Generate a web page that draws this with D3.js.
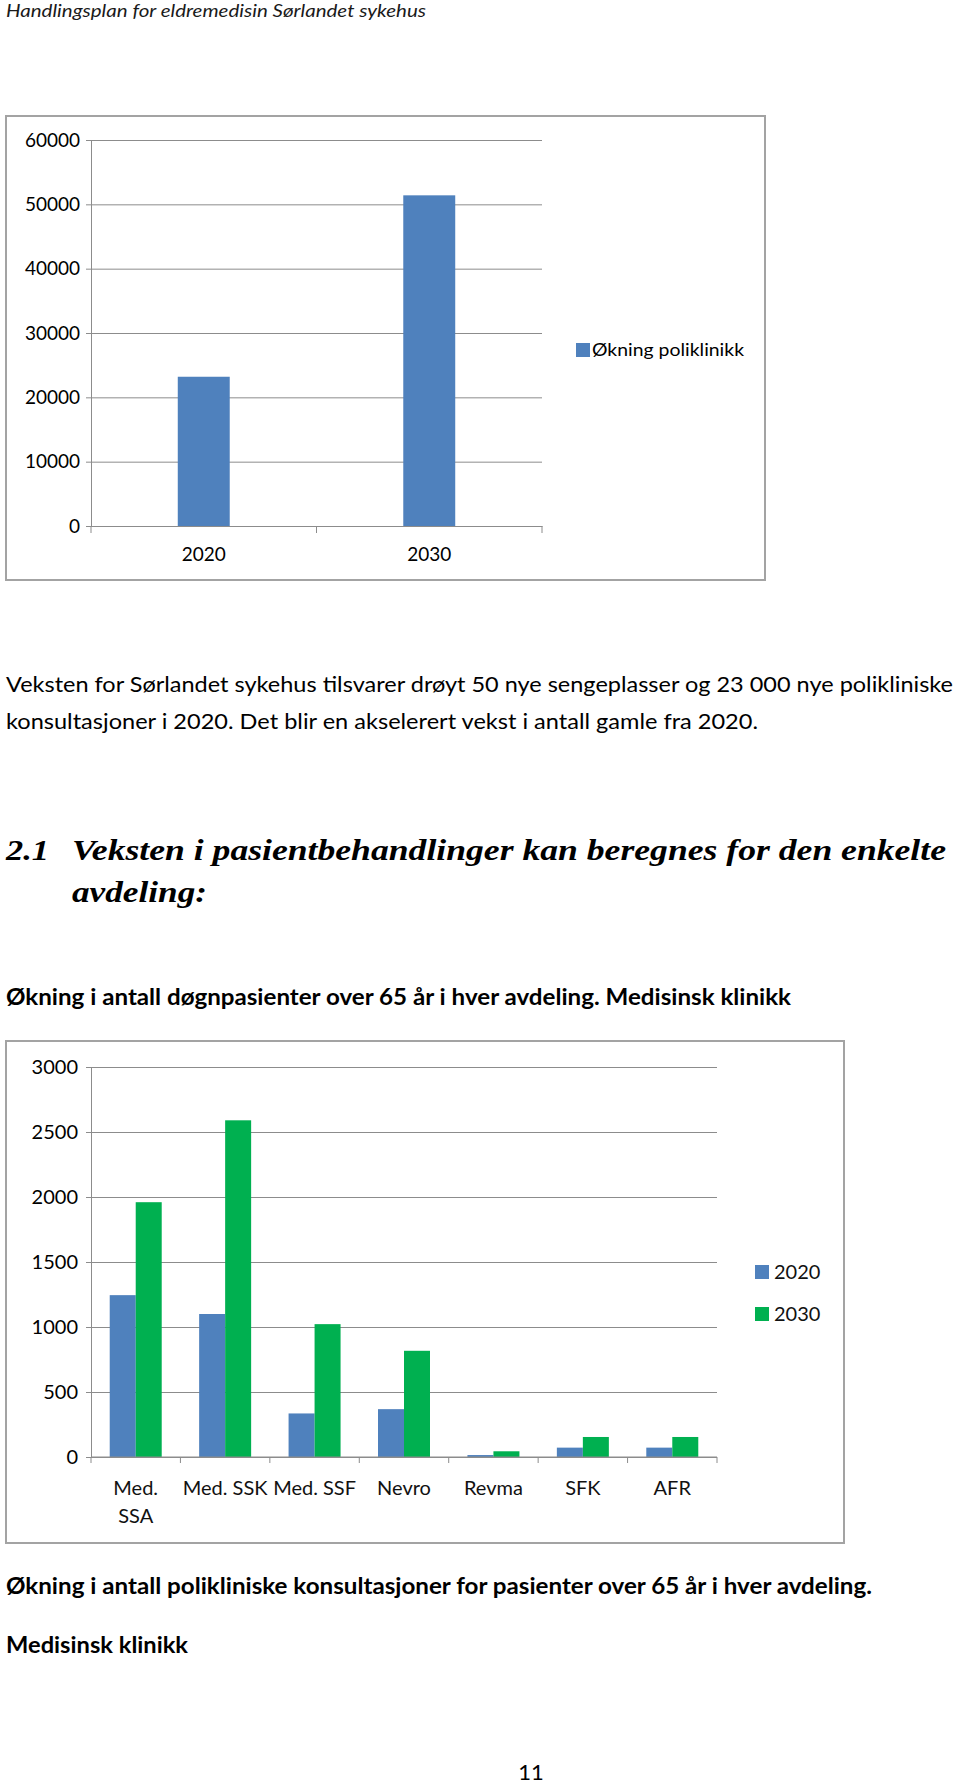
<!DOCTYPE html>
<html>
<head>
<meta charset="utf-8">
<script src="https://cdn.jsdelivr.net/npm/d3@7"></script>
<style>
  body { margin: 0; background: #fff; }
  svg text { font-family: Lato, "Open Sans", sans-serif; fill: #000; }
</style>
</head>
<body>
<div id="page"></div>
<script>
// Chart 1: poliklinikk growth
var years = ["2020", "2030"];
var polikliniskValues = [23200, 51400];
var polikliniskSeries = "Økning poliklinikk";
var polikliniskTicks = [0, 10000, 20000, 30000, 40000, 50000, 60000];

// Chart 2: døgnpasienter per avdeling
var avdelinger = ["Med. SSA", "Med. SSK", "Med. SSF", "Nevro", "Revma", "SFK", "AFR"];
var avdelingLabels = [["Med.", "SSA"], ["Med. SSK"], ["Med. SSF"], ["Nevro"], ["Revma"], ["SFK"], ["AFR"]];
var values2020 = [1245, 1100, 335, 368, 15, 72, 72];
var values2030 = [1960, 2590, 1022, 817, 44, 154, 154];
var seriesYears = ["2020", "2030"];
var dognTicks = [0, 500, 1000, 1500, 2000, 2500, 3000];

var blue = "#4f81bd";
var green = "#00b050";
var gridColor = "#8c8c8c";

var W = 960, H = 1786;
var svg = d3.select("#page").append("svg")
    .attr("width", W)
    .attr("height", H);

svg.append("rect").attr("width", W).attr("height", H).attr("fill", "#fff");

// helper for document text lines, stretched to the width seen in the page
function textLine(x, y, str, opts) {
    var t = svg.append("text")
        .attr("x", x)
        .attr("y", y)
        .attr("font-size", opts.size + "px")
        .text(str);
    if (opts.weight) t.attr("font-weight", opts.weight);
    if (opts.style) t.attr("font-style", opts.style);
    if (opts.family) t.style("font-family", opts.family);
    if (opts.fill) t.style("fill", opts.fill);
    if (opts.anchor) t.attr("text-anchor", opts.anchor);
    if (opts.width) t.attr("textLength", opts.width).attr("lengthAdjust", "spacingAndGlyphs");
    return t;
}

// page header
textLine(6, 17, "Handlingsplan for eldremedisin Sørlandet sykehus", {size: 18, style: "italic", width: 420, fill: "#1a1a1a"});

// ---------- chart 1 ----------
svg.append("rect")
    .attr("x", 6).attr("y", 116)
    .attr("width", 759).attr("height", 464)
    .attr("fill", "#fff")
    .attr("stroke", "#a3a3a3")
    .attr("stroke-width", 2);

var c1 = {left: 91, right: 542, top: 140, bottom: 526};

var y1 = d3.scaleLinear()
    .domain([0, 60000])
    .range([c1.bottom, c1.top]);

var x1 = d3.scaleBand()
    .domain(years)
    .range([c1.left, c1.right])
    .padding(0);

var x1inner = d3.scaleBand()
    .domain([polikliniskSeries])
    .range([0, x1.bandwidth()])
    .paddingOuter(1.67);

// gridlines
svg.append("g")
    .attr("transform", "translate(" + c1.left + ",0)")
    .call(d3.axisLeft(y1).tickValues(polikliniskTicks).tickSize(-(c1.right - c1.left)).tickFormat(""))
    .call(function(g) {
        g.select(".domain").remove();
        g.selectAll("line").attr("stroke", gridColor);
    });

// y-axis with labels
svg.append("g")
    .attr("transform", "translate(" + c1.left + ",0)")
    .call(d3.axisLeft(y1).tickValues(polikliniskTicks).tickSize(5).tickSizeOuter(0).tickPadding(6).tickFormat(d3.format("d")))
    .call(function(g) {
        g.select(".domain").attr("stroke", gridColor);
        g.selectAll("line").attr("stroke", gridColor);
        g.selectAll("text").attr("font-size", "19px").style("font-family", "Lato, sans-serif").attr("fill", "#111");
    });

// bars
svg.selectAll(".bar1")
    .data(polikliniskValues)
    .enter()
    .append("rect")
    .attr("class", "bar1")
    .attr("x", function(d, i) { return x1(years[i]) + x1inner(polikliniskSeries); })
    .attr("y", function(d) { return y1(d); })
    .attr("width", x1inner.bandwidth())
    .attr("height", function(d) { return c1.bottom - y1(d); })
    .attr("fill", blue);

// x axis: line, ticks at band edges, labels centered
svg.append("g")
    .attr("transform", "translate(0," + c1.bottom + ")")
    .call(d3.axisBottom(x1).tickSize(0).tickPadding(22))
    .call(function(g) {
        g.select(".domain").attr("stroke", gridColor);
        g.selectAll("text").attr("font-size", "19px").style("font-family", "Lato, sans-serif").attr("fill", "#111");
    });
var edges1 = years.map(function(d) { return x1(d); }).concat([x1.range()[1]]);
svg.selectAll(".edge1")
    .data(edges1)
    .enter()
    .append("line")
    .attr("x1", function(d) { return d; })
    .attr("x2", function(d) { return d; })
    .attr("y1", c1.bottom)
    .attr("y2", c1.bottom + 7)
    .attr("stroke", gridColor);

// legend
svg.append("rect").attr("x", 576).attr("y", 343).attr("width", 14).attr("height", 14).attr("fill", blue);
textLine(592, 356, polikliniskSeries, {size: 18, width: 152});

// paragraph
textLine(6, 692, "Veksten for Sørlandet sykehus tilsvarer drøyt 50 nye sengeplasser og 23 000 nye polikliniske", {size: 22, width: 947});
textLine(6, 729, "konsultasjoner i 2020. Det blir en akselerert vekst i antall gamle fra 2020.", {size: 22, width: 752});

// heading
var serif = "\"Liberation Serif\", \"DejaVu Serif\", serif";
textLine(6, 860, "2.1", {size: 30, weight: "bold", style: "italic", family: serif, width: 43});
textLine(72, 860, "Veksten i pasientbehandlinger kan beregnes for den enkelte", {size: 30, weight: "bold", style: "italic", family: serif, width: 874});
textLine(72, 902, "avdeling:", {size: 30, weight: "bold", style: "italic", family: serif, width: 135});

textLine(6, 1005, "Økning i antall døgnpasienter over 65 år i hver avdeling. Medisinsk klinikk", {size: 22, weight: "bold", width: 785});

// ---------- chart 2 ----------
svg.append("rect")
    .attr("x", 6).attr("y", 1041)
    .attr("width", 838).attr("height", 502)
    .attr("fill", "#fff")
    .attr("stroke", "#a3a3a3")
    .attr("stroke-width", 2);

var c2 = {left: 91, right: 717, top: 1067, bottom: 1457};

var y2 = d3.scaleLinear()
    .domain([0, 3000])
    .range([c2.bottom, c2.top]);

var x2 = d3.scaleBand()
    .domain(avdelinger)
    .range([c2.left, c2.right])
    .padding(0);

var x2inner = d3.scaleBand()
    .domain(seriesYears)
    .range([0, x2.bandwidth()])
    .paddingInner(0)
    .paddingOuter(0.72);

svg.append("g")
    .attr("transform", "translate(" + c2.left + ",0)")
    .call(d3.axisLeft(y2).tickValues(dognTicks).tickSize(-(c2.right - c2.left)).tickFormat(""))
    .call(function(g) {
        g.select(".domain").remove();
        g.selectAll("line").attr("stroke", gridColor);
    });

svg.append("g")
    .attr("transform", "translate(" + c2.left + ",0)")
    .call(d3.axisLeft(y2).tickValues(dognTicks).tickSize(5).tickSizeOuter(0).tickPadding(8).tickFormat(d3.format("d")))
    .call(function(g) {
        g.select(".domain").attr("stroke", gridColor);
        g.selectAll("line").attr("stroke", gridColor);
        g.selectAll("text").attr("font-size", "20px").style("font-family", "Lato, sans-serif").attr("fill", "#111");
    });

var rows = avdelinger.map(function(a, i) {
    return {avd: a, values: [{key: "2020", v: values2020[i]}, {key: "2030", v: values2030[i]}]};
});
var colors = d3.scaleOrdinal().domain(seriesYears).range([blue, green]);

svg.selectAll(".grp")
    .data(rows)
    .enter()
    .append("g")
    .attr("class", "grp")
    .attr("transform", function(d) { return "translate(" + x2(d.avd) + ",0)"; })
    .selectAll("rect")
    .data(function(d) { return d.values; })
    .enter()
    .append("rect")
    .attr("x", function(d) { return x2inner(d.key); })
    .attr("y", function(d) { return y2(d.v); })
    .attr("width", x2inner.bandwidth())
    .attr("height", function(d) { return c2.bottom - y2(d.v); })
    .attr("fill", function(d) { return colors(d.key); });

svg.append("line")
    .attr("x1", c2.left).attr("x2", c2.right)
    .attr("y1", c2.bottom).attr("y2", c2.bottom)
    .attr("stroke", gridColor);

var edges2 = avdelinger.map(function(d) { return x2(d); }).concat([x2.range()[1]]);
svg.selectAll(".edge2")
    .data(edges2)
    .enter()
    .append("line")
    .attr("x1", function(d) { return d; })
    .attr("x2", function(d) { return d; })
    .attr("y1", c2.bottom)
    .attr("y2", c2.bottom + 6)
    .attr("stroke", gridColor);

var xl = svg.selectAll(".xl2")
    .data(avdelinger)
    .enter()
    .append("text")
    .attr("class", "xl2")
    .attr("text-anchor", "middle")
    .attr("font-size", "20px")
    .style("fill", "#111")
    .attr("x", function(d) { return x2(d) + x2.bandwidth() / 2; })
    .attr("y", 1495);
xl.selectAll("tspan")
    .data(function(d, i) { return avdelingLabels[i]; })
    .enter()
    .append("tspan")
    .attr("x", function() { return d3.select(this.parentNode).attr("x"); })
    .attr("dy", function(d, i) { return i === 0 ? 0 : 28; })
    .text(function(d) { return d; });

// legend
var leg = svg.selectAll(".leg2")
    .data(seriesYears)
    .enter()
    .append("g")
    .attr("class", "leg2")
    .attr("transform", function(d, i) { return "translate(755," + (1265 + i * 42) + ")"; });
leg.append("rect").attr("width", 14).attr("height", 14).attr("fill", function(d) { return colors(d); });
leg.append("text").attr("x", 19).attr("y", 14).attr("font-size", "20px").style("fill", "#111").text(function(d) { return d; });

// text below
textLine(6, 1594, "Økning i antall polikliniske konsultasjoner for pasienter over 65 år i hver avdeling.", {size: 22, weight: "bold", width: 866});
textLine(6, 1653, "Medisinsk klinikk", {size: 22, weight: "bold", width: 182});
textLine(531, 1780, "11", {size: 22, anchor: "middle"});
</script>
</body>
</html>
